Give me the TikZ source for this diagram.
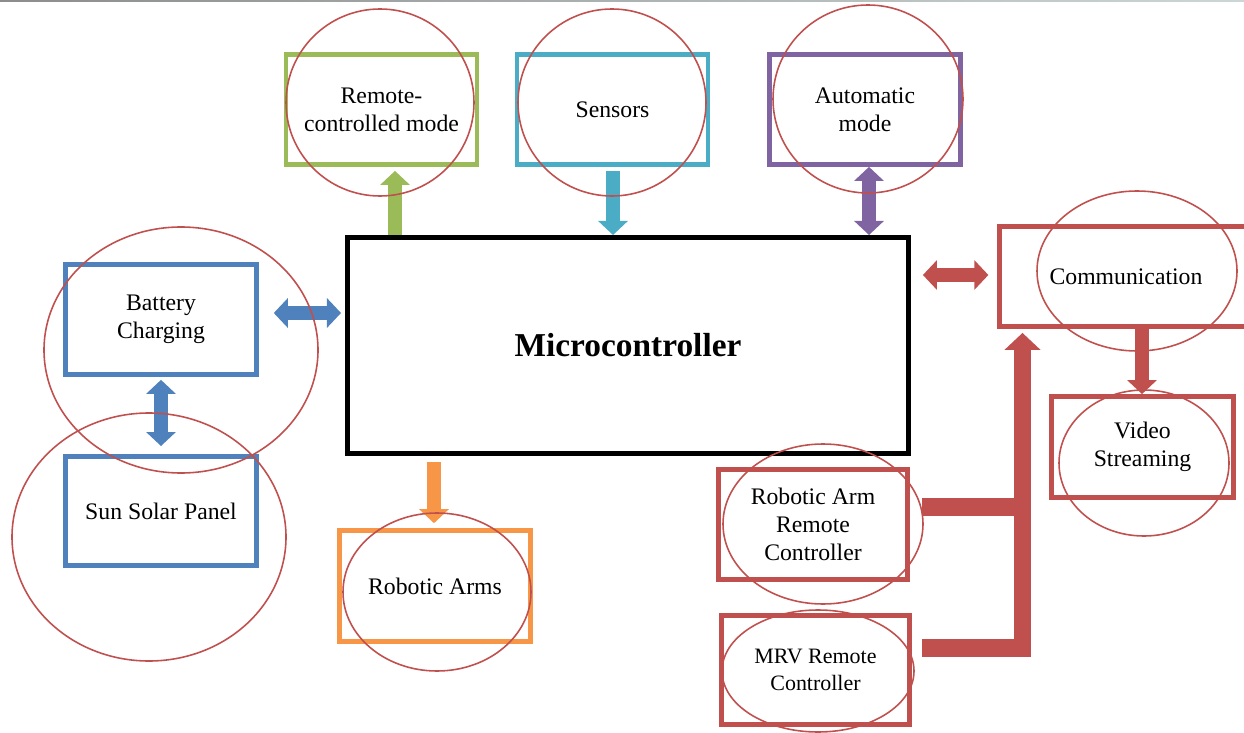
\documentclass[tikz,border=0pt]{standalone}
\usepackage{fontspec}
\setmainfont{Liberation Serif}
\usetikzlibrary{arrows.meta}
\definecolor{cgreen}{HTML}{9BBB59}
\definecolor{ccyan}{HTML}{4BACC6}
\definecolor{cpurple}{HTML}{8064A2}
\definecolor{cblue}{HTML}{4F81BD}
\definecolor{corange}{HTML}{F79646}
\definecolor{cred}{HTML}{C0504D}
\tikzset{
  blk/.style={draw=#1, line width=2.7pt, minimum width=3.82cm, minimum height=2.2cm,
    inner sep=0pt, align=center, font=\fontsize{13.5}{16}\selectfont},
  ring/.style={draw=cred, line width=0.9pt},
  onearr/.style={draw=#1, line width=8pt, -{Triangle[width=16.5pt,length=8pt]}},
  twoarr/.style={draw=#1, line width=8pt,
    {Triangle[width=16.5pt,length=8pt]}-{Triangle[width=16.5pt,length=8pt]}},
}
\begin{document}
\begin{tikzpicture}[x=0.02cm,y=-0.02cm]
\useasboundingbox (0,0) rectangle (1244,733);
\clip (0,0) rectangle (1244,733);
\fill[left color=black!45, right color=cyan!20!black!20] (0,0) rectangle (1244,2);

\node[blk=cgreen] (remote) at (381.5,109.5) {Remote-\\controlled mode};
\node[blk=ccyan] (sensors) at (612.5,109.5) {Sensors};
\node[blk=cpurple] (auto) at (865,109.5) {Automatic\\mode};
\node[draw, line width=2.85pt, minimum width=11.22cm, minimum height=4.32cm,
  font=\fontsize{19}{22}\selectfont\bfseries] (micro) at (628,345.5) {Microcontroller};
\node[blk=cblue] (battery) at (161,319.5) {Battery\\Charging};
\node[blk=cblue, minimum height=2.18cm] (solar) at (161,511) {Sun Solar Panel};
\node[blk=corange, minimum height=2.22cm] (arms) at (435,586) {Robotic Arms};
\node[blk=cred, minimum width=5.06cm, minimum height=2cm] (comm) at (1126,276.5) {Communication};
\node[blk=cred, minimum width=3.64cm, minimum height=2.02cm] (video) at (1142.5,447) {Video\\Streaming};
\node[blk=cred, minimum width=3.78cm] (rarm) at (813,524.5) {Robotic Arm\\Remote\\Controller};
\node[blk=cred, minimum width=3.76cm, minimum height=2.18cm,
  font=\fontsize{12.5}{15}\selectfont] (mrv) at (815.5,670) {MRV Remote\\Controller};

\coordinate (xg) at (395,0);
\coordinate (xc) at (613,0);
\coordinate (xp) at (869,0);
\coordinate (xo) at (434,0);
\coordinate (xv) at (1142,0);
\coordinate (yb) at (0,313);
\coordinate (yc) at (0,275);
\coordinate (yr) at (0,507);
\coordinate (ym) at (0,648);
\coordinate (bus) at (1022.5,648);

\draw[onearr=cgreen, shorten >=2.3pt] (micro.north -| xg) -- (remote.south -| xg);
\draw[onearr=ccyan, shorten <=2.3pt] (sensors.south -| xc) -- (micro.north -| xc);
\draw[twoarr=cpurple] (auto.south -| xp) -- (micro.north -| xp);
\draw[twoarr=cred, shorten <=6.8pt, shorten >=5pt] (micro.east |- yc) -- (comm.west |- yc);
\draw[twoarr=cblue, shorten <=8.5pt, shorten >=2.3pt] (battery.east |- yb) -- (micro.west |- yb);
\draw[twoarr=cblue, shorten <=1.7pt, shorten >=4.6pt] (battery.south) -- (solar.north);
\draw[onearr=corange, shorten <=3.4pt, shorten >=2.8pt] (micro.south -| xo) -- (arms.north -| xo);
\draw[onearr=cred, line width=7.5pt] (comm.south -| xv) -- (video.north -| xv);
\draw[cred, line width=10pt, shorten <=5.7pt, shorten >=2.3pt,
  -{Triangle[width=20pt,length=9.7pt]}] (mrv.east |- ym) -- (bus) -- (comm.south -| bus);
\draw[cred, line width=10pt, shorten <=6.8pt] (rarm.east |- yr) -- (yr -| bus);

\draw[ring] (380,102.5) ellipse [x radius=94, y radius=93.5];
\draw[ring] (612,102.5) ellipse [x radius=94, y radius=93.5];
\draw[ring] (868,99) ellipse [x radius=95, y radius=94];
\draw[ring] (181,350) ellipse [x radius=137, y radius=123];
\draw[ring] (149,537) ellipse [x radius=137, y radius=124];
\draw[ring] (437,592) ellipse [x radius=94, y radius=79];
\draw[ring] (1137,271) ellipse [x radius=100, y radius=80];
\draw[ring] (1144,463) ellipse [x radius=85, y radius=73];
\draw[ring] (823,524) ellipse [x radius=100, y radius=80];
\draw[ring] (818,671) ellipse [x radius=96, y radius=61];
\end{tikzpicture}
\end{document}
